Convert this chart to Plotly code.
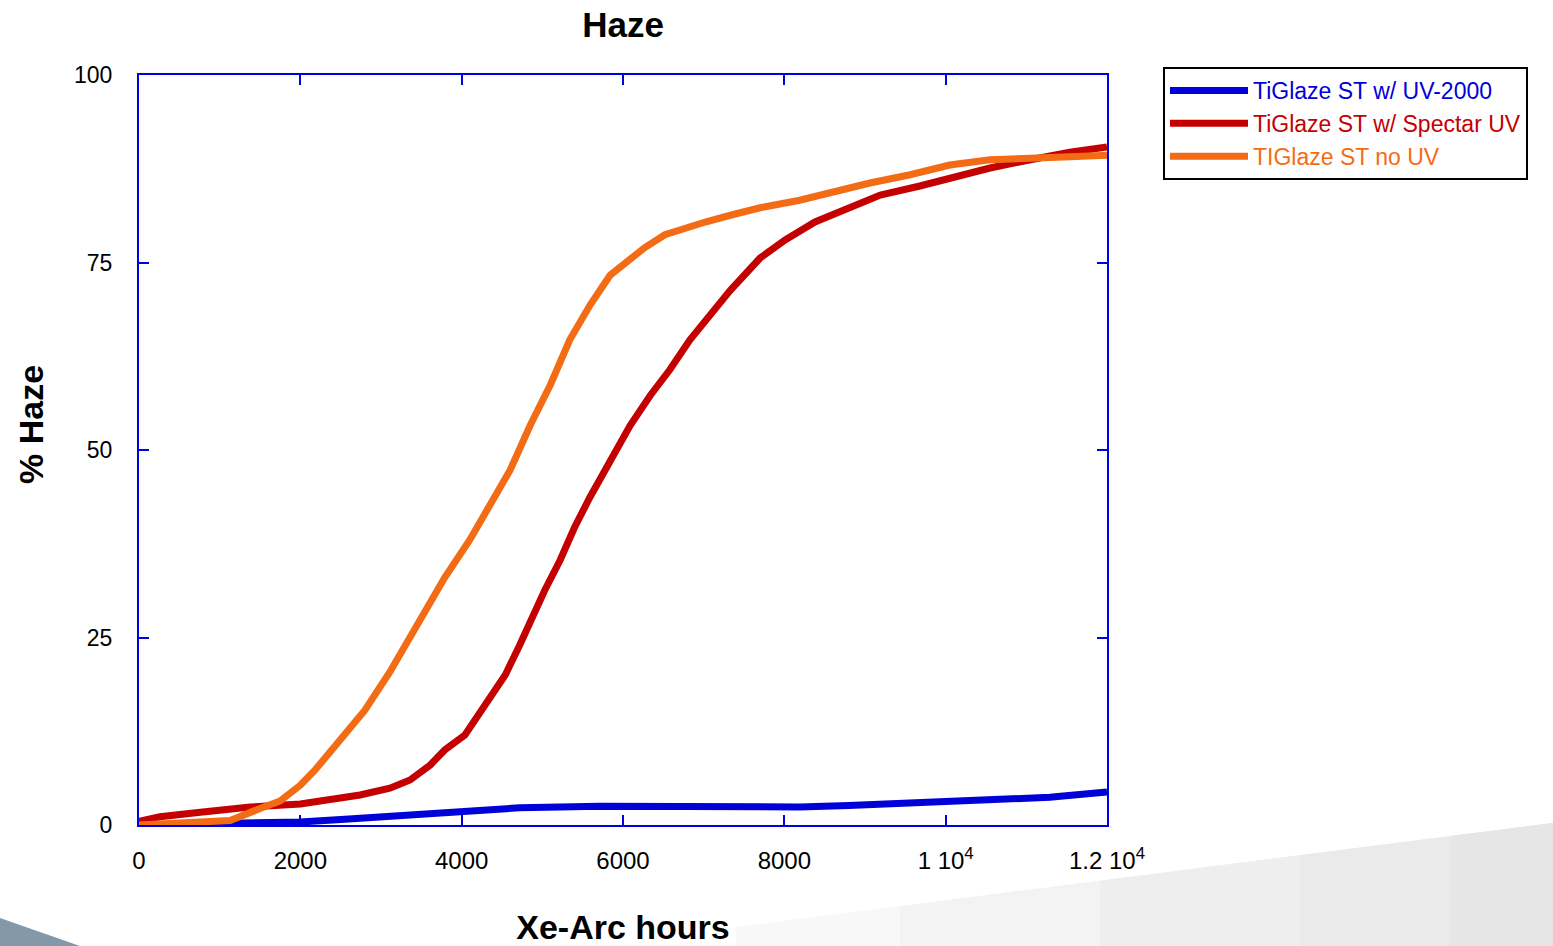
import plotly.graph_objects as go

# ---- data ----
hours_uv2000 = [0, 1000, 2000, 2600, 3240, 3980, 4720, 5710, 6950, 7200, 8190, 8800, 9430, 10670, 11290, 12000]
haze_uv2000 = [0, 0.1, 0.4, 0.8, 1.3, 1.7, 2.3, 2.5, 2.5, 2.3, 2.4, 2.6, 2.9, 3.3, 3.7, 4.4]

hours_spectar = [0, 260, 760, 1380, 2000, 2370, 2740, 3110, 3360, 3610, 3790, 4040, 4230, 4350, 4540,
                 4720, 4850, 5030, 5220, 5400, 5590, 5840, 6090, 6340, 6580, 6830, 7080, 7330, 7700,
                 8010, 8380, 8810, 9190, 9680, 10050, 10550, 11050, 11540, 12000]
haze_spectar = [0.5, 1.1, 1.7, 2.4, 2.8, 3.3, 4.0, 4.9, 6.0, 8.0, 10, 12, 15, 17.3, 20,
                24, 27.3, 31.3, 35.3, 39.7, 43.7, 48.7, 53.3, 57.3, 60.7, 64.7, 68, 71.3, 75.6,
                78, 80.4, 82.3, 84, 85.2, 86.3, 87.6, 88.7, 89.7, 90.4]

hours_nouv = [0, 750, 1130, 1500, 1750, 2000, 2180, 2490, 2800, 3110, 3300, 3610, 3790, 4100, 4350,
              4600, 4850, 5100, 5340, 5590, 5840, 6030, 6270, 6520, 6770, 7020, 7330, 7700, 8190,
              8570, 9060, 9560, 10050, 10550, 11050, 11540, 12000]
haze_nouv = [0, 0.3, 0.6, 2.2, 3.2, 5.3, 7.3, 11.3, 15.3, 20.4, 24, 30, 33, 38, 42.7,
             47.3, 53.3, 58.7, 64.7, 69.3, 73.3, 75, 77, 78.7, 79.6, 80.4, 81.3, 82.3, 83.3,
             84.4, 85.6, 86.7, 88, 88.7, 89, 89.1, 89.3]

x_tickvals = [0, 2000, 4000, 6000, 8000, 10000, 12000]
x_ticktext = ["0", "2000", "4000", "6000", "8000", "1 10<sup>4</sup>", "1.2 10<sup>4</sup>"]
y_tickvals = [0, 25, 50, 75, 100]

BLUE = "#0000d8"
RED = "#c40000"
ORANGE = "#f36c15"
AXIS = "#0000e0"
FONT = "Liberation Sans, Arial, sans-serif"

fig = go.Figure()
fig.add_trace(go.Scatter(x=hours_uv2000, y=haze_uv2000, mode="lines",
                         line=dict(color=BLUE, width=7),
                         name=f"<span style='color:{BLUE}'>TiGlaze ST w/ UV-2000</span>"))
fig.add_trace(go.Scatter(x=hours_spectar, y=haze_spectar, mode="lines",
                         line=dict(color=RED, width=7),
                         name=f"<span style='color:{RED}'>TiGlaze ST w/ Spectar UV</span>"))
fig.add_trace(go.Scatter(x=hours_nouv, y=haze_nouv, mode="lines",
                         line=dict(color=ORANGE, width=7),
                         name=f"<span style='color:{ORANGE}'>TIGlaze ST no UV</span>"))

# background swoosh (slide decoration), in paper coords derived from pixels
L, R, T, B = 139, 1107, 75, 825
def px(x):
    return (x - L) / (R - L)
def py(y):
    return (B - y) / (B - T)
def top_edge(x):
    return 927 - (x - 736) * (104 / 817)

shapes = []
for x0, col in [(736, "#f8f8f8"), (900, "#f3f3f3"), (1100, "#eeeeee"), (1300, "#eaeaea"), (1450, "#e6e6e6")]:
    pts = [(x0, top_edge(x0)), (1553, top_edge(1553)), (1553, 946), (x0, 946)]
    path = "M " + " L ".join(f"{px(a):.4f},{py(b):.4f}" for a, b in pts) + " Z"
    shapes.append(dict(type="path", path=path, xref="paper", yref="paper",
                       fillcolor=col, line=dict(width=0), layer="below"))
pts = [(0, 918), (80, 946), (0, 946)]
path = "M " + " L ".join(f"{px(a):.4f},{py(b):.4f}" for a, b in pts) + " Z"
shapes.append(dict(type="path", path=path, xref="paper", yref="paper",
                   fillcolor="#8398a8", line=dict(width=0), layer="below"))

fig.update_layout(
    width=1553, height=946,
    margin=dict(l=139, r=446, t=75, b=121),
    paper_bgcolor="white", plot_bgcolor="rgba(0,0,0,0)",
    font=dict(family=FONT, size=23, color="black"),
    title=dict(text="<b>Haze</b>", x=0.5, xref="paper", xanchor="center",
               y=1 - 25 / 946, yanchor="middle", font=dict(size=35, color="black")),
    showlegend=True,
    legend=dict(x=px(1163), y=py(67), xanchor="left", yanchor="top",
                bordercolor="black", borderwidth=2, bgcolor="white",
                font=dict(size=23), itemwidth=78, tracegroupgap=0),
    shapes=shapes,
    annotations=[dict(text="<b>% Haze</b>", textangle=-90, showarrow=False,
                      xref="paper", yref="paper", x=px(31), y=py(425),
                      xanchor="center", yanchor="middle", font=dict(size=34, color="black"))],
)
fig.update_xaxes(range=[0, 12000], tickvals=x_tickvals, ticktext=x_ticktext,
                 showgrid=False, zeroline=False, showline=True, linecolor=AXIS, linewidth=2,
                 mirror="ticks", ticks="inside", ticklen=10, tickwidth=2, tickcolor=AXIS,
                 ticklabelstandoff=13, tickfont=dict(size=24), automargin=False,
                 title=dict(text="<b>Xe-Arc hours</b>", font=dict(size=34), standoff=42))
fig.update_yaxes(range=[0, 100], tickvals=y_tickvals,
                 showgrid=False, zeroline=False, showline=True, linecolor=AXIS, linewidth=2,
                 mirror="ticks", ticks="inside", ticklen=10, tickwidth=2, tickcolor=AXIS,
                 ticklabelstandoff=20, tickfont=dict(size=23), automargin=False)

fig.write_html("out.html", post_script="document.body.style.margin='0';",
               config={"displayModeBar": False})
